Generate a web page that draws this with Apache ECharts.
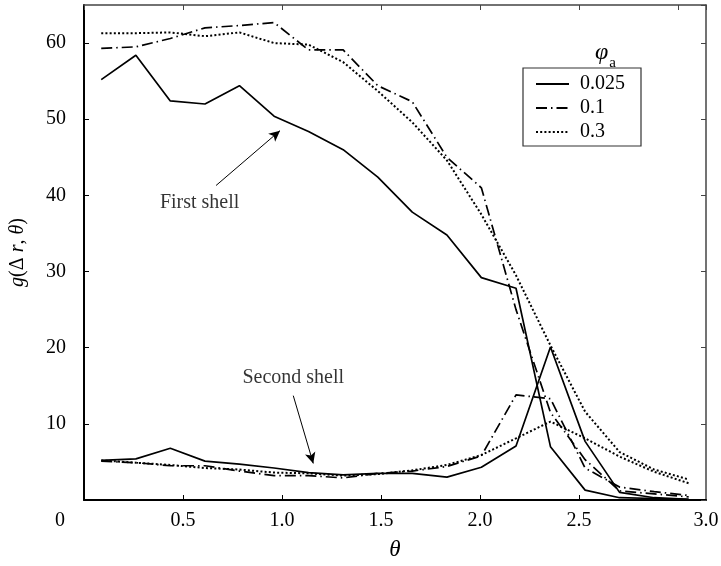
<!DOCTYPE html>
<html>
<head>
<meta charset="utf-8">
<script src="https://cdn.jsdelivr.net/npm/echarts@6/dist/echarts.min.js"></script>
<style>html,body{margin:0;padding:0;background:#fff}#c{width:721px;height:566px}</style>
</head>
<body>
<div id="c"></div>
<script>
const theta = [0.087, 0.262, 0.436, 0.611, 0.785, 0.960, 1.134, 1.309, 1.484, 1.658, 1.833, 2.007, 2.182, 2.356, 2.531, 2.705, 2.880, 3.054];
const first025 = [55.2, 58.4, 52.4, 52.0, 54.4, 50.4, 48.4, 46.0, 42.4, 37.8, 34.8, 29.2, 27.8, 7.0, 1.3, 0.3, 0.2, 0.1];
const first01 = [59.3, 59.5, 60.6, 62.0, 62.3, 62.7, 59.1, 59.1, 54.4, 52.3, 45.0, 41.0, 25.0, 11.5, 5.3, 1.2, 0.8, 0.4];
const first03 = [61.3, 61.3, 61.4, 60.9, 61.4, 60.0, 59.8, 57.5, 53.7, 49.6, 44.6, 37.5, 29.5, 20.3, 11.6, 6.3, 4.0, 2.7];
const second025 = [5.2, 5.4, 6.8, 5.1, 4.7, 4.2, 3.6, 3.3, 3.5, 3.5, 3.0, 4.3, 7.1, 20.1, 7.7, 1.0, 0.3, 0.1];
const second01 = [5.1, 4.9, 4.5, 4.5, 3.8, 3.2, 3.2, 2.9, 3.5, 3.8, 4.4, 5.8, 13.8, 13.3, 4.2, 1.7, 1.1, 0.6];
const second03 = [5.2, 4.9, 4.6, 4.2, 4.0, 3.6, 3.5, 3.2, 3.4, 3.9, 4.6, 5.9, 8.1, 10.3, 8.1, 5.7, 3.7, 2.2];
const legendNames = ['0.025', '0.1', '0.3'];
const xTickLabels = ['0.5', '1.0', '1.5', '2.0', '2.5'];
const yTickLabels = ['10', '20', '30', '40', '50', '60'];
const cornerLabels = ['0', '3.0'];
const notes = [
  { text: 'First shell', at: [0.584, 39.0], tail: [0.667, 41.3], head: [0.99, 48.5] },
  { text: 'Second shell', at: [1.057, 16.1], tail: [1.057, 13.7], head: [1.158, 4.8] }
];

const FONT = "'Liberation Serif', 'DejaVu Serif', serif";
const pair = (ys) => theta.map((t, i) => [t, ys[i]]);
const styles = {
  '0.025': { type: 'solid', width: 1.7 },
  '0.1': { type: [11, 4, 1.5, 4], width: 1.7 },
  '0.3': { type: [2, 2.2], width: 2 }
};
function lineSeries(name, ys) {
  return {
    name: name, type: 'line', data: pair(ys), symbol: 'none', showSymbol: false,
    lineStyle: { color: '#000', width: styles[name].width, type: styles[name].type },
    itemStyle: { color: '#000' }, silent: true, z: 3
  };
}

const chart = echarts.init(document.getElementById('c'), null, { renderer: 'canvas' });
const option = {
  animation: false,
  backgroundColor: '#fff',
  textStyle: { fontFamily: FONT },
  grid: { left: 76.7, right: 15, top: 5, bottom: 64.5, containLabel: false },
  title: {
    text: '{p|φ}{s|a}', left: 590, top: 36,
    textStyle: { fontWeight: 'normal', rich: {
      p: { fontFamily: FONT, fontStyle: 'italic', fontWeight: 'normal', fontSize: 24, color: '#000' },
      s: { fontFamily: FONT, fontWeight: 'normal', fontSize: 15, color: '#000', verticalAlign: 'bottom', padding: [0, 0, -6, 1] }
    } }
  },
  legend: {
    data: legendNames, orient: 'vertical', left: 523, top: 68,
    padding: [6, 16, 4, 12], itemGap: 4, itemWidth: 33, itemHeight: 14,
    backgroundColor: '#fff', borderColor: '#333', borderWidth: 1.2, borderRadius: 0,
    itemStyle: { opacity: 0, borderWidth: 0 },
    textStyle: { fontFamily: FONT, fontSize: 20, color: '#000', padding: [0, 0, 0, 6] },
    selectedMode: false
  },
  xAxis: [{
    type: 'value', min: 0, max: Math.PI, interval: 0.5, position: 'bottom',
    name: 'θ', nameLocation: 'middle', nameGap: 38,
    nameTextStyle: { fontFamily: FONT, fontStyle: 'italic', fontSize: 23, color: '#000' },
    axisLine: { show: true, onZero: false, lineStyle: { color: '#000', width: 2 } },
    axisTick: { show: true, inside: true, length: 5, customValues: [0.5, 1, 1.5, 2, 2.5], lineStyle: { color: '#000', width: 1 } },
    axisLabel: { color: '#000', fontFamily: FONT, fontSize: 20, margin: 11,
      formatter: (v) => { const s = v.toFixed(1); return xTickLabels.indexOf(s) >= 0 ? s : ''; } },
    splitLine: { show: false }
  }, {
    type: 'value', min: 0, max: Math.PI, interval: 0.5, position: 'top',
    axisLine: { show: true, onZero: false, lineStyle: { color: '#444', width: 1.5 } },
    axisTick: { show: true, inside: true, length: 5, lineStyle: { color: '#444', width: 1 } },
    axisLabel: { show: false }, splitLine: { show: false }
  }],
  yAxis: [{
    type: 'value', min: 0, max: 65, interval: 10, position: 'left',
    name: '{i|g}({n|Δ} {i|r}, {i|θ})', nameLocation: 'middle', nameGap: 56, nameRotate: 90,
    nameTextStyle: { fontFamily: FONT, fontSize: 20, color: '#000', rich: {
      i: { fontFamily: FONT, fontStyle: 'italic', fontSize: 20, color: '#000' },
      n: { fontFamily: FONT, fontSize: 20, color: '#000' }
    } },
    axisLine: { show: true, onZero: false, lineStyle: { color: '#000', width: 2 } },
    axisTick: { show: true, inside: true, length: 5, lineStyle: { color: '#000', width: 1 } },
    axisLabel: { color: '#000', fontFamily: FONT, fontSize: 20, margin: 18, showMaxLabel: false,
      formatter: (v) => yTickLabels.indexOf(String(v)) >= 0 ? String(v) : '' },
    splitLine: { show: false }
  }, {
    type: 'value', min: 0, max: 65, interval: 10, position: 'right',
    axisLine: { show: true, onZero: false, lineStyle: { color: '#444', width: 1.5 } },
    axisTick: { show: true, inside: true, length: 5, lineStyle: { color: '#444', width: 1 } },
    axisLabel: { show: false }, splitLine: { show: false }
  }],
  series: [
    lineSeries('0.025', first025),
    lineSeries('0.1', first01),
    lineSeries('0.3', first03),
    lineSeries('0.025', second025),
    lineSeries('0.1', second01),
    lineSeries('0.3', second03),
    {
      name: 'notes', type: 'scatter', symbolSize: 0, silent: true, z: 4,
      data: notes.map(n => ({ value: n.at, label: { show: true, formatter: n.text } })),
      label: { show: true, position: 'inside', color: '#000', fontFamily: FONT, fontSize: 20 },
      markLine: {
        silent: true, symbol: ['none', 'arrow'], symbolSize: [8, 11], animation: false,
        lineStyle: { color: '#000', width: 1, type: 'solid' }, label: { show: false },
        data: notes.map(n => [{ coord: n.tail }, { coord: n.head }])
      }
    }
  ],
  graphic: [
    { type: 'text', x: 60, y: 521, style: { text: cornerLabels[0], fontFamily: FONT, fontSize: 20, fill: '#000', align: 'center', verticalAlign: 'middle' } },
    { type: 'text', x: 706, y: 521, style: { text: cornerLabels[1], fontFamily: FONT, fontSize: 20, fill: '#000', align: 'center', verticalAlign: 'middle' } }
  ]
};
chart.setOption(option);
</script>
</body>
</html>
